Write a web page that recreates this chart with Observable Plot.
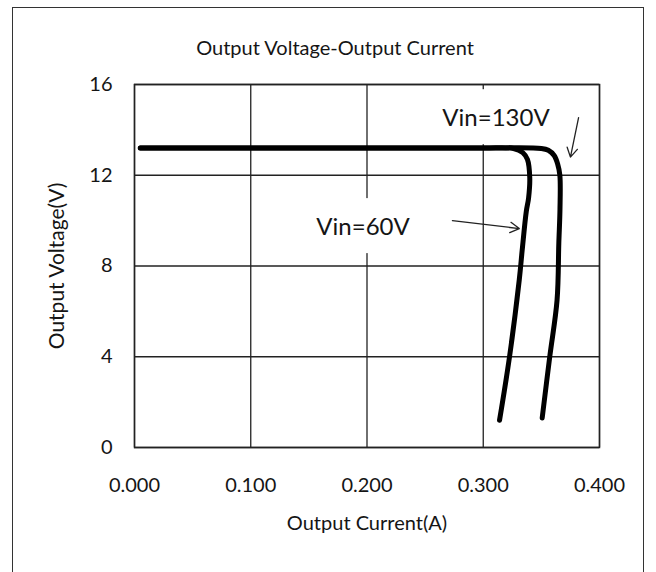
<!DOCTYPE html>
<html>
<head>
<meta charset="utf-8">
<script src="https://cdn.jsdelivr.net/npm/d3@7"></script>
<script src="https://cdn.jsdelivr.net/npm/@observablehq/plot@0.6"></script>
<style>
  html, body { margin: 0; padding: 0; background: #fff; }
  #wrap { position: relative; width: 656px; height: 572px; overflow: hidden; }
  #box { position: absolute; left: 12px; top: 7px; width: 632px; height: 600px; border: 1.5px solid #333; box-sizing: border-box; }
  #chart { position: absolute; left: 0; top: 0; }
</style>
</head>
<body>
<div id="wrap"><div id="box"></div><div id="chart"></div></div>
<script>
const title = "Output Voltage-Output Current";
const xLabel = "Output Current(A)";
const yLabel = "Output Voltage(V)";
const currentTicks = [0, 0.1, 0.2, 0.3, 0.4];
const voltageTicks = [0, 4, 8, 12, 16];

const vin60Current = [0.005, 0.100, 0.200, 0.300, 0.326, 0.334, 0.338, 0.340, 0.339, 0.337, 0.3335, 0.331, 0.3226, 0.314];
const vin60Voltage = [13.2, 13.2, 13.2, 13.2, 13.18, 13.0, 12.7, 11.9, 11.0, 10.4, 8.7, 7.4, 4.0, 1.2];
const vin130Current = [0.005, 0.100, 0.200, 0.300, 0.350, 0.356, 0.361, 0.364, 0.3659, 0.3660, 0.365, 0.3635, 0.3572, 0.3507];
const vin130Voltage = [13.2, 13.2, 13.2, 13.2, 13.18, 13.1, 12.87, 12.5, 12.0, 10.5, 9.0, 6.5, 4.0, 1.3];

const seriesNames = ["Vin=60V", "Vin=130V"];
const labelX = [0.1966, 0.311];
const labelY = [9.7, 14.5];
const arrowX1 = [0.2735, 0.382];
const arrowY1 = [10.0, 14.54];
const arrowX2 = [0.331, 0.375];
const arrowY2 = [9.65, 12.8];

const curves = [
  ...vin60Current.map((c, i) => ({series: seriesNames[0], current: c, voltage: vin60Voltage[i]})),
  ...vin130Current.map((c, i) => ({series: seriesNames[1], current: c, voltage: vin130Voltage[i]}))
];
const notes = seriesNames.map((s, i) => ({
  s, lx: labelX[i], ly: labelY[i], x1: arrowX1[i], y1: arrowY1[i], x2: arrowX2[i], y2: arrowY2[i]
}));

const font = "Lato, 'Open Sans', sans-serif";
const ink = "#151515";

const chart = Plot.plot({
  width: 656,
  height: 572,
  marginLeft: 134,
  marginRight: 57,
  marginTop: 84,
  marginBottom: 125,
  style: {fontFamily: font, fontSize: "20px", color: ink, background: "transparent", overflow: "visible"},
  x: {domain: [0, 0.4], ticks: currentTicks, tickFormat: d3.format(".3f"), label: null},
  y: {domain: [0, 16], ticks: voltageTicks, label: null},
  marks: [
    Plot.gridX(currentTicks, {stroke: "#222", strokeOpacity: 1, strokeWidth: 1.3}),
    Plot.gridY(voltageTicks, {stroke: "#222", strokeOpacity: 1, strokeWidth: 1.3}),
    Plot.frame({stroke: "#222", strokeWidth: 1.5}),
    Plot.axisX(currentTicks, {tickSize: 0, tickPadding: 30, tickFormat: d3.format(".3f"), fontSize: 20, label: null}),
    Plot.axisY(voltageTicks, {tickSize: 0, tickPadding: 22, fontSize: 20, label: null}),
    Plot.text(notes, {x: "lx", y: "ly", text: "s", fontSize: 24, fill: ink, className: "note-label"}),
    Plot.line(curves, {x: "current", y: "voltage", z: "series", stroke: "#000", strokeWidth: 5, strokeLinejoin: "round", strokeLinecap: "round", curve: "catmull-rom"}),
    Plot.arrow(notes, {x1: "x1", y1: "y1", x2: "x2", y2: "y2", stroke: "#222", strokeWidth: 1.3, headLength: 12, bend: 0}),
    Plot.text([title], {frameAnchor: "top", dx: -32, dy: -44, text: d => d, fontSize: 20, fill: ink}),
    Plot.text([xLabel], {frameAnchor: "bottom", dy: 82, text: d => d, fontSize: 20, fill: ink}),
    Plot.text([yLabel], {frameAnchor: "left", textAnchor: "middle", dx: -77, rotate: -90, text: d => d, fontSize: 21, fill: ink})
  ]
});
document.getElementById("chart").appendChild(chart);

// white label boxes behind the annotation texts (hide the grid lines there)
d3.select(chart).selectAll("g.note-label").each(function() {
  const g = this;
  d3.select(g).selectAll("text").each(function() {
    const bb = this.getBBox();
    const t = this.getAttribute("transform");
    d3.select(g).insert("rect", () => this)
      .attr("transform", t)
      .attr("x", bb.x - 8).attr("y", bb.y - 13)
      .attr("width", bb.width + 16).attr("height", bb.height + 26)
      .attr("fill", "#fff");
  });
});
</script>
</body>
</html>
